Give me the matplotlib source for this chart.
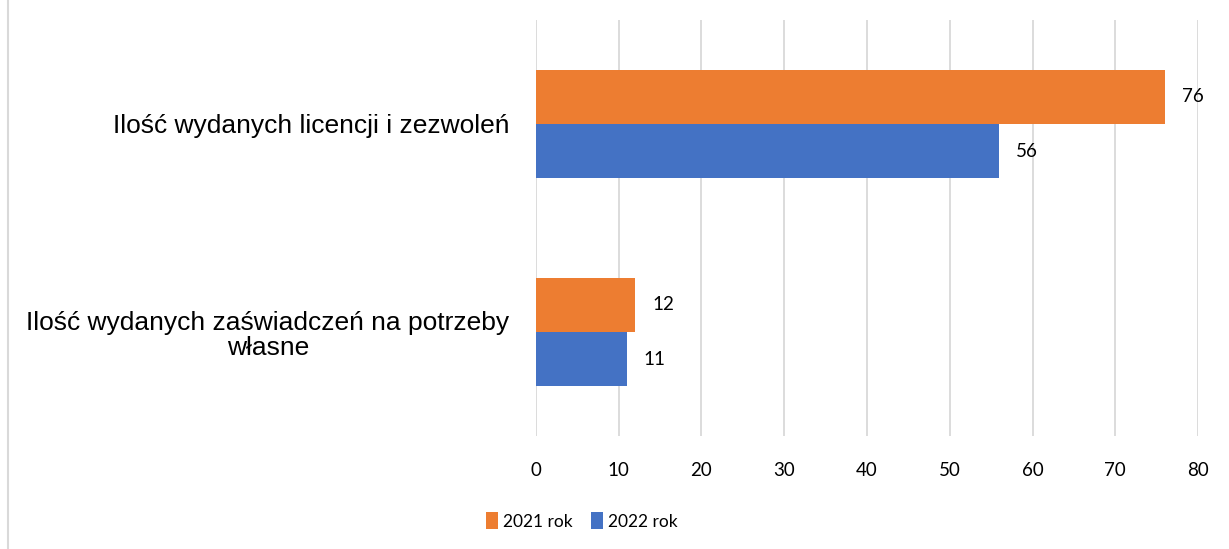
import matplotlib.pyplot as plt
from matplotlib.lines import Line2D
import numpy as np

# Dane do wykresu
categories = ["Ilość wydanych licencji i zezwoleń",
              "Ilość wydanych zaświadczeń na potrzeby\nwłasne"]
series_names = ["2021 rok", "2022 rok"]
values_2021 = [76, 12]
values_2022 = [56, 11]
x_ticks = [0, 10, 20, 30, 40, 50, 60, 70, 80]

orange = "#ED7D31"
blue = "#4472C4"
grid_color = "#D9D9D9"
num_font = ["Lato", "DejaVu Sans"]
label_font = ["Liberation Sans", "DejaVu Sans"]

fig = plt.figure(figsize=(12.29, 5.49), dpi=100)
ax = fig.add_axes([0.4361, 0.2058, 0.5387, 0.7578])

y = np.arange(len(categories))
h = 0.26
b1 = ax.barh(y - h / 2, values_2021, height=h, color=orange, label=series_names[0])
b2 = ax.barh(y + h / 2, values_2022, height=h, color=blue, label=series_names[1])

for bars, vals in ((b1, values_2021), (b2, values_2022)):
    for bar, v in zip(bars, vals):
        ax.annotate(str(v), (v, bar.get_y() + bar.get_height() / 2),
                    xytext=(12, 0), textcoords="offset points",
                    ha="left", va="center", fontsize=13.5, family=num_font)

ax.set_xlim(0, 80)
ax.set_ylim(1.5, -0.5)
ax.set_xticks(x_ticks)
ax.set_xticklabels([str(t) for t in x_ticks], fontsize=13.5, family=num_font)
ax.set_yticks(y)
ax.set_yticklabels(categories, fontsize=19, family=label_font,
                   ha="right", multialignment="center", linespacing=1.1)
ax.tick_params(axis="y", length=0, pad=19)
ax.tick_params(axis="x", length=0, pad=19)
for s in ax.spines.values():
    s.set_visible(False)
ax.xaxis.grid(True, color=grid_color, linewidth=1.3)
ax.set_axisbelow(True)

leg = fig.legend(loc="center", bbox_to_anchor=(0.4735, 0.051), ncol=2,
                 frameon=False, prop={"family": num_font, "size": 12.5},
                 handlelength=0.65, handleheight=1.1, handletextpad=0.3,
                 columnspacing=1.1)

# ramka po lewej stronie
fig.add_artist(Line2D([0.0065, 0.0065], [0, 1], color=grid_color, linewidth=1.5,
                      transform=fig.transFigure))

fig.savefig("out.png", dpi=100)
